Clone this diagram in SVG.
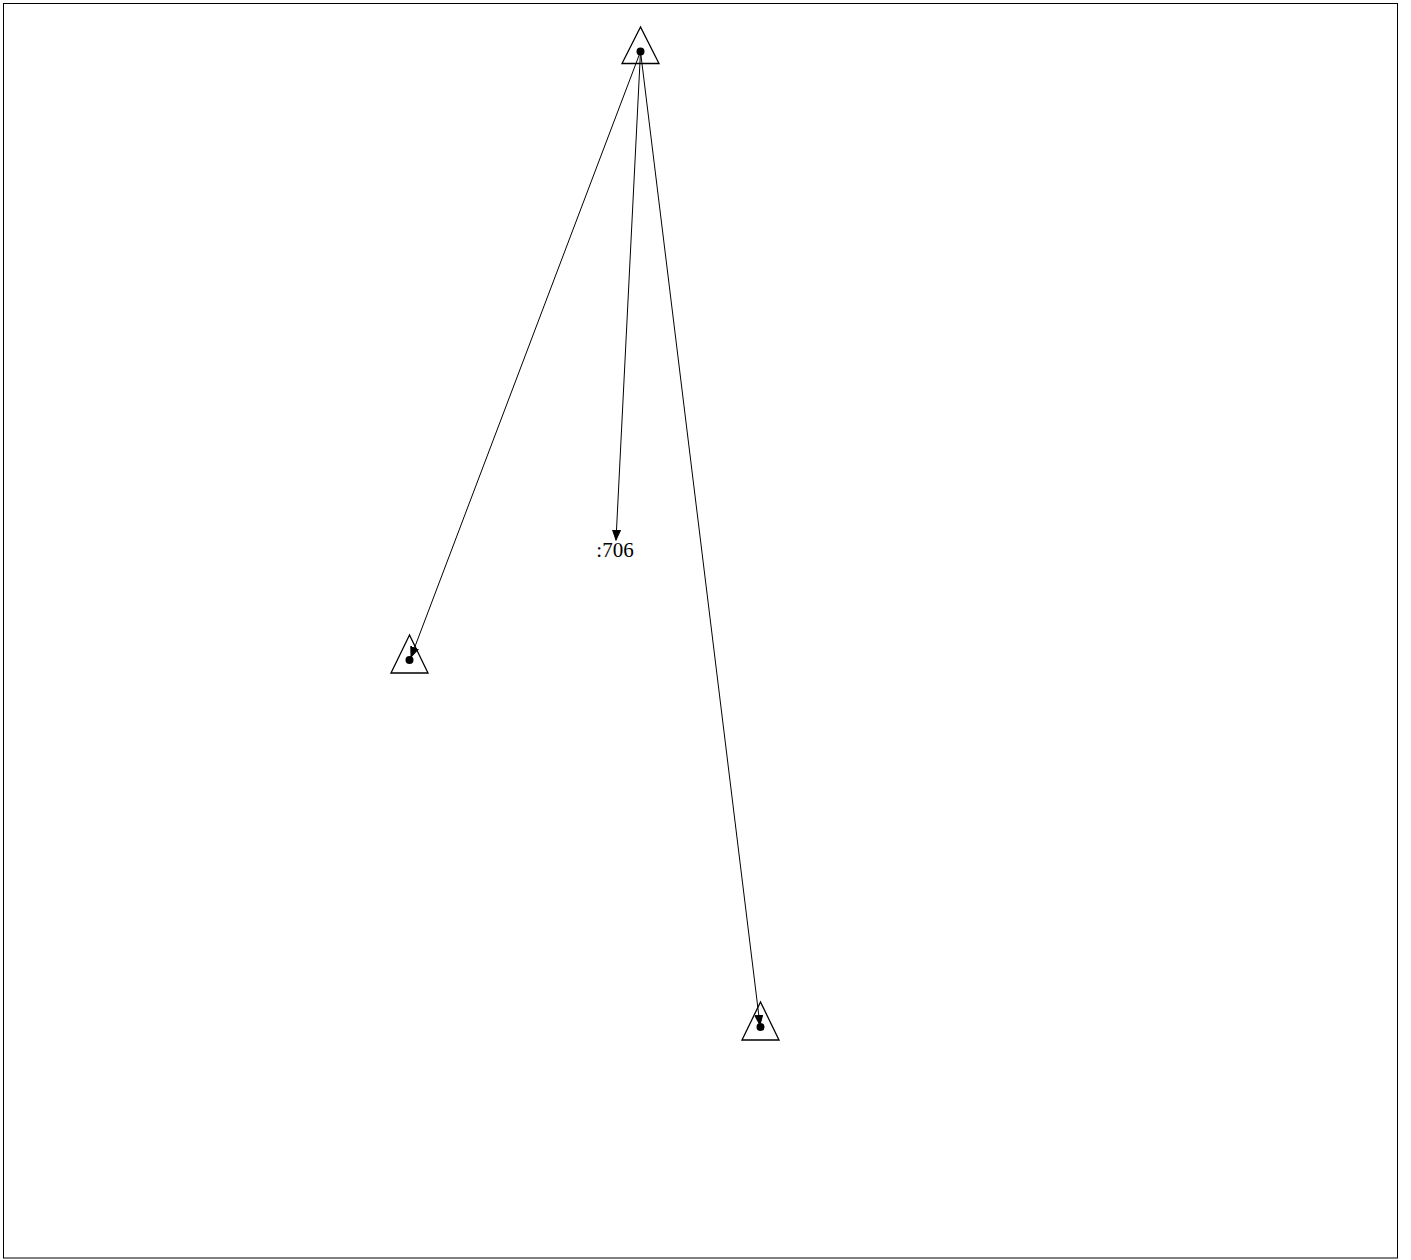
<svg xmlns="http://www.w3.org/2000/svg" width="1411" height="1260" viewBox="0 0 1411 1260">
<style>
.tri{fill:none;stroke:#000;stroke-width:1.3}
.dot{fill:#000}
.edge{stroke:#000;stroke-width:1;fill:none}
.lbl{font-family:"Liberation Serif",serif;font-size:21px;fill:#000}
</style>
<defs>
<marker id="ah" markerWidth="11" markerHeight="9" refX="10" refY="4.5" orient="auto" markerUnits="userSpaceOnUse">
<path d="M0,0.5 L10,4.5 L0,8.5 Z" fill="#000" stroke="#000" stroke-width="1"/>
</marker>
</defs>
<rect x="3.5" y="3.5" width="1394" height="1254.5" fill="#fff" stroke="#000" stroke-width="1"/>
<g id="edges">
<line class="edge" x1="640.5" y1="51.5" x2="411" y2="657" marker-end="url(#ah)"/>
<line class="edge" x1="640.5" y1="51.5" x2="616" y2="540" marker-end="url(#ah)"/>
<line class="edge" x1="640.5" y1="51.5" x2="760" y2="1025" marker-end="url(#ah)"/>
</g>
<g id="n_top">
<polygon class="tri" points="640.5,27 622,63.5 659,63.5"/>
<circle class="dot" cx="640.5" cy="51.5" r="4"/>
</g>
<g id="n_left">
<polygon class="tri" points="409.5,635 391,673 428,673"/>
<circle class="dot" cx="409.5" cy="660" r="4"/>
</g>
<g id="n_right">
<polygon class="tri" points="760.5,1002 742,1040 779,1040"/>
<circle class="dot" cx="760.5" cy="1027" r="4"/>
</g>
<g id="n_706">
<text class="lbl" x="615" y="557" text-anchor="middle">:706</text>
</g>
</svg>
